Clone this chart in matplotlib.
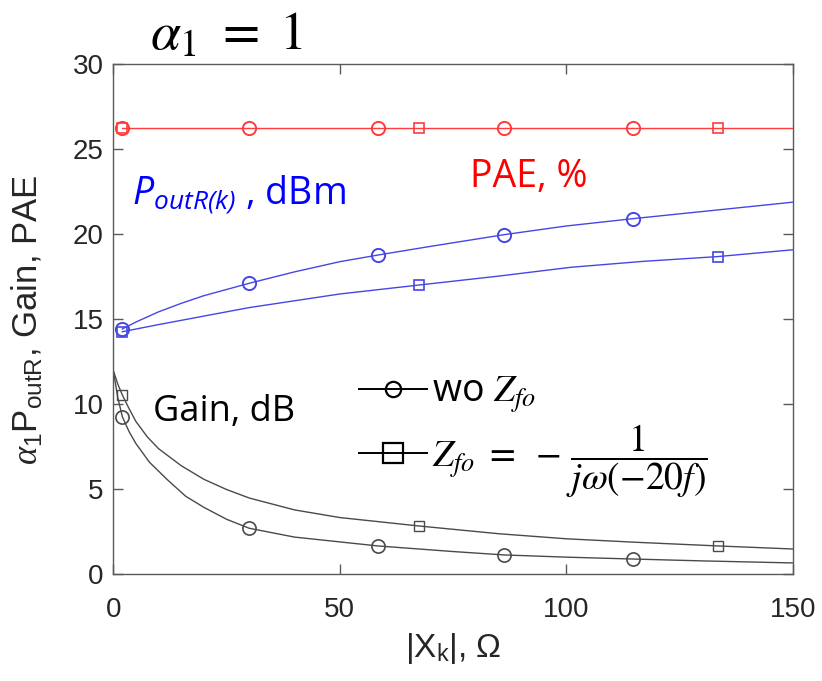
import numpy as np
import matplotlib
matplotlib.use("Agg")
import matplotlib.pyplot as plt
from matplotlib.lines import Line2D
from matplotlib.font_manager import FontProperties

# values
# PAE, % (flat)
pae_x = [2, 150]
pae_y = [26.25, 26.25]

# P_outR(k), dBm, without Zfo (circles)
pout_wo_x = [2, 5, 10, 15, 20, 30, 40, 50, 58.4, 70, 86.3, 100, 114.7, 130, 150]
pout_wo_y = [14.44, 14.85, 15.45, 15.95, 16.4, 17.13, 17.8, 18.4, 18.79, 19.3, 19.99,
             20.5, 20.93, 21.35, 21.9]
# P_outR(k), dBm, with Zfo (squares)
pout_z_x = [2, 10, 20, 30, 40, 50, 67.6, 85, 101, 117, 133.4, 150]
pout_z_y = [14.28, 14.7, 15.2, 15.7, 16.1, 16.5, 17.03, 17.55, 18.07, 18.42, 18.7, 19.1]

# Gain, dB without Zfo (circles)
gain_wo_x = [0, 1, 2, 3.5, 5, 8, 12, 16, 20, 25, 30, 40, 58.4, 75, 86.3, 100, 114.7,
             130, 150]
gain_wo_y = [12.0, 10.4, 9.28, 8.4, 7.7, 6.6, 5.56, 4.6, 3.95, 3.25, 2.72, 2.2, 1.68,
             1.35, 1.15, 1.02, 0.91, 0.8, 0.68]
# Gain, dB with Zfo (squares)
gain_z_x = [0, 1, 2, 3.5, 5, 7.5, 10, 15, 20, 25, 30, 40, 50, 67.6, 85, 100, 115,
            133.4, 150]
gain_z_y = [12.0, 11.2, 10.56, 9.75, 9.0, 8.1, 7.4, 6.4, 5.6, 5.0, 4.5, 3.8, 3.35,
            2.85, 2.4, 2.1, 1.9, 1.68, 1.5]

# marker positions
circ_x = [2, 30, 58.4, 86.3, 114.7]
sq_x = [2, 67.6, 133.4]
pae_circ = [26.25] * 5
pae_sq = [26.25] * 3
pout_circ = [14.44, 17.13, 18.79, 19.99, 20.93]
pout_sq = [14.28, 17.03, 18.7]
gain_circ = [9.28, 2.72, 1.68, 1.15, 0.91]
gain_sq = [10.56, 2.85, 1.68]

xticks = [0, 50, 100, 150]
yticks = [0, 5, 10, 15, 20, 25, 30]

plt.rcParams['font.family'] = ['Liberation Sans', 'DejaVu Sans']
plt.rcParams['mathtext.fontset'] = 'custom'
plt.rcParams['mathtext.rm'] = 'Liberation Sans'
plt.rcParams['mathtext.it'] = 'Liberation Serif:italic'
plt.rcParams['mathtext.sf'] = 'Open Sans:italic'
plt.rcParams['mathtext.bf'] = 'Liberation Sans:bold'

red = '#ff3b3b'
blue = '#4646e6'
black = '#4a4a4a'
axcol = '#5a5a5a'

fig = plt.figure(figsize=(8.22, 6.81), dpi=100)
ax = fig.add_axes([0.1378, 0.1564, 0.8266, 0.7489])

lw = 1.0
ax.plot(pae_x, pae_y, color=red, lw=lw)
ax.plot(circ_x, pae_circ, 'o', mfc='none', mec=red, ms=9.5, mew=1.4)
ax.plot(sq_x, pae_sq, 's', mfc='none', mec=red, ms=7, mew=1.2)

ax.plot(pout_wo_x, pout_wo_y, color=blue, lw=lw)
ax.plot(pout_z_x, pout_z_y, color=blue, lw=lw)
ax.plot(circ_x, pout_circ, 'o', mfc='none', mec=blue, ms=9.5, mew=1.4)
ax.plot(sq_x, pout_sq, 's', mfc='none', mec=blue, ms=7, mew=1.2)

ax.plot(gain_wo_x, gain_wo_y, color=black, lw=lw)
ax.plot(gain_z_x, gain_z_y, color=black, lw=lw)
ax.plot(circ_x, gain_circ, 'o', mfc='none', mec=black, ms=9.5, mew=1.2)
ax.plot(sq_x, gain_sq, 's', mfc='none', mec=black, ms=7, mew=1.0)

ax.set_xlim(0, 150)
ax.set_ylim(0, 30)
ax.set_xticks(xticks)
ax.set_yticks(yticks)
ax.tick_params(direction='in', top=True, right=True, length=7, width=1.0,
               colors=axcol, labelcolor='#262626', labelsize=20)
ax.tick_params(axis='x', pad=16)
ax.tick_params(axis='y', pad=7)
for s in ax.spines.values():
    s.set_color(axcol)
    s.set_linewidth(1.0)

ax.set_xlabel(r'|X$_\mathrm{k}$|, $\Omega$', fontsize=24, color='#262626')
ax.xaxis.set_label_coords(0.5, -0.11)
ax.set_ylabel(r'$\alpha_1$P$_\mathrm{outR}$, Gain, PAE', fontsize=25, color='#262626')
ax.yaxis.set_label_coords(-0.1, 0.5)

# in-plot labels
ax.text(8.8, 9.05, 'Gain, dB', fontsize=26, family='Open Sans', color='black',
        va='baseline')
ax.text(78.8, 22.8, 'PAE, %', fontsize=27, family='Open Sans', color='red',
        va='baseline')
ax.text(4.1, 21.7, r'$\mathsf{P}_{\mathsf{outR(k)}}$ , dBm', fontsize=27,
        family='Open Sans', color='blue', va='baseline')

fig.text(150 / 822, 1 - 36 / 681, r'$\alpha_1\ =\ 1$', fontsize=39,
         math_fontfamily='stix', ha='left', va='center')

handles = [
    Line2D([], [], color='black', lw=1.4, marker='o', mfc='none', mec='black', ms=11,
           mew=1.6),
    Line2D([], [], color='black', lw=1.4, marker='s', mfc='none', mec='black', ms=15,
           mew=1.6),
]
labels = [r'wo $Z_{fo}$', r'$Z_{fo}\ =\ -\,\dfrac{1}{j\omega(-20f)}$']
prop = FontProperties(family='Open Sans', size=27, math_fontfamily='stix')
ax.legend(handles, labels, prop=prop, frameon=False, loc='upper left',
          bbox_to_anchor=(0.34, 0.425), handlelength=1.8, handletextpad=0.15,
          labelspacing=0.2, borderaxespad=0)

fig.savefig('out.png', dpi=100)
